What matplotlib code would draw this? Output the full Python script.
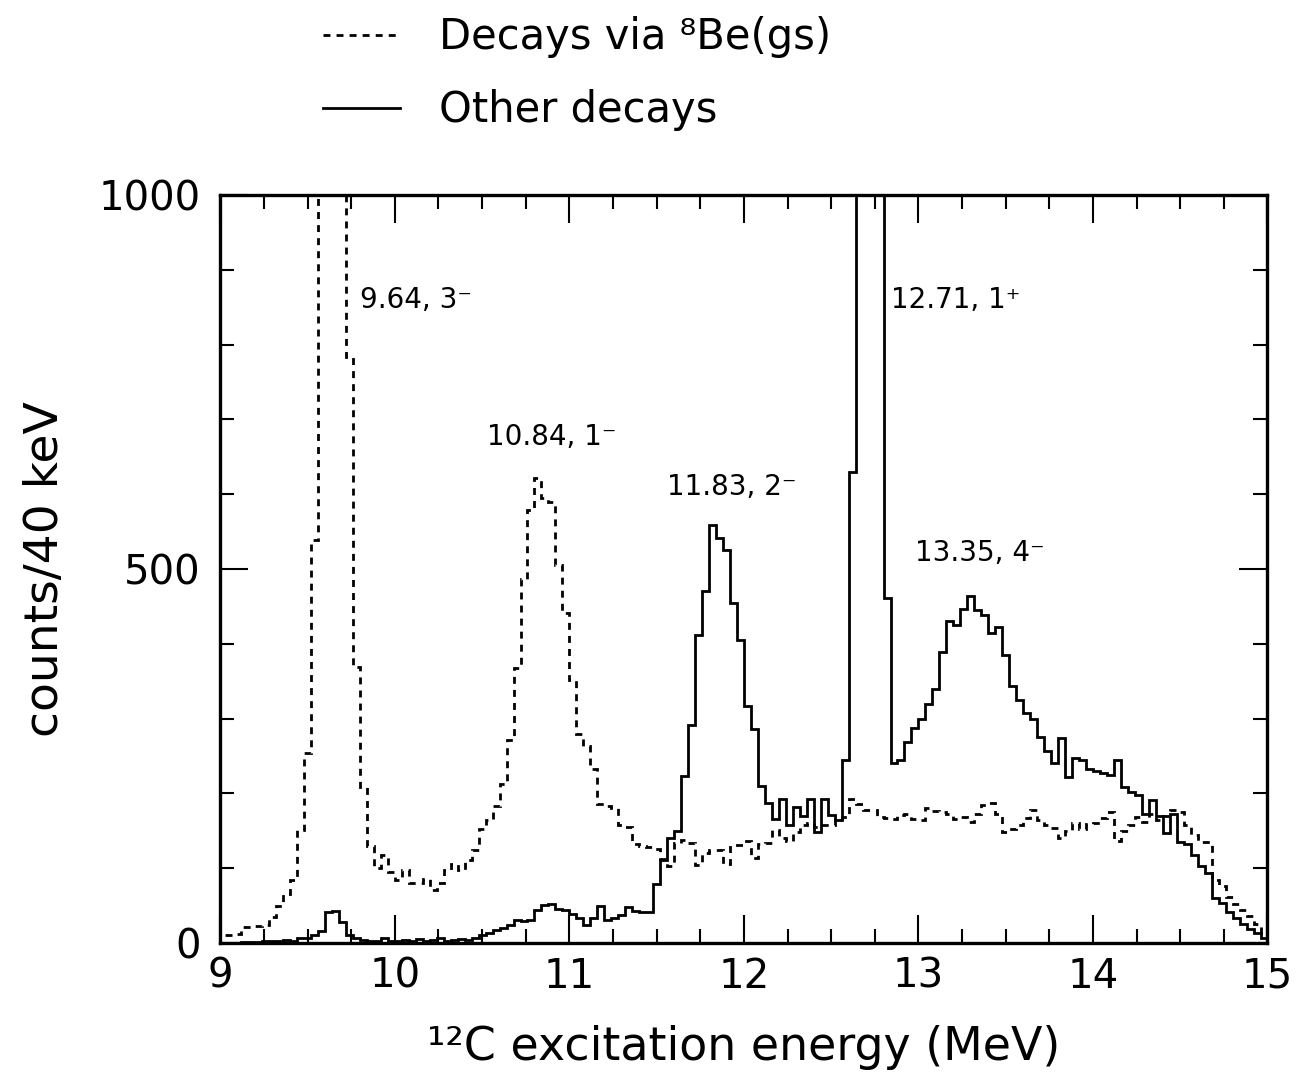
import numpy as np
import matplotlib
matplotlib.use("Agg")
import matplotlib.pyplot as plt
from matplotlib.ticker import MultipleLocator

# 40 keV bins from 9.00 to 15.00 MeV
edges = np.linspace(9.0, 15.0, 151)

# decays via 8Be(gs)  (dashed)
via_be8 = [
    11, 11, 12, 22, 22, 23, 24, 35, 49, 66,
    84, 151, 254, 539, 1900, 3100, 2900, 1700, 784, 369,
    209, 129, 100, 118, 95, 84, 97, 80, 80, 86,
    71, 80, 98, 106, 98, 111, 124, 153, 164, 183,
    213, 271, 367, 487, 579, 621, 595, 590, 505, 441,
    352, 280, 263, 232, 186, 183, 181, 158, 155, 132,
    130, 128, 126, 112, 103, 133, 138, 133, 104, 120,
    124, 124, 106, 131, 131, 136, 113, 132, 133, 151,
    140, 136, 148, 158, 160, 155, 158, 158, 164, 168,
    193, 186, 178, 178, 169, 167, 166, 171, 172, 166,
    165, 181, 177, 175, 172, 166, 168, 162, 172, 185,
    187, 172, 149, 152, 158, 167, 178, 165, 158, 154,
    140, 150, 161, 152, 159, 160, 167, 175, 136, 150,
    158, 168, 162, 172, 165, 170, 178, 175, 158, 144,
    135, 135, 84, 76, 62, 52, 44, 36, 25, 10,
]

# other decays  (solid)
other = [
    0, 0, 0, 1, 1, 1, 2, 2, 3, 4,
    3, 6, 6, 11, 16, 42, 43, 28, 11, 6,
    4, 2, 3, 6, 3, 2, 4, 3, 5, 2,
    4, 6, 3, 4, 5, 4, 7, 11, 13, 17,
    20, 24, 31, 29, 31, 44, 51, 52, 46, 44,
    39, 33, 24, 33, 50, 31, 33, 37, 48, 43,
    42, 42, 79, 111, 140, 150, 223, 291, 412, 471,
    559, 542, 525, 454, 405, 317, 286, 210, 187, 166,
    192, 158, 182, 170, 193, 149, 193, 171, 164, 245,
    630, 1500, 2600, 2700, 1400, 461, 240, 245, 269, 288,
    300, 320, 340, 389, 430, 425, 447, 464, 445, 438,
    415, 422, 385, 343, 325, 308, 299, 276, 256, 240,
    274, 222, 247, 245, 232, 230, 227, 225, 245, 209,
    202, 198, 173, 191, 170, 147, 173, 135, 132, 118,
    103, 93, 60, 53, 42, 33, 26, 18, 13, 7,
]

labels = ["9.64, 3\u207b", "10.84, 1\u207b", "11.83, 2\u207b", "12.71, 1\u207a", "13.35, 4\u207b"]
label_x = [9.80, 10.53, 11.56, 12.84, 12.98]
label_y = [860, 676, 610, 860, 521]

fig = plt.figure(figsize=(12.96, 10.82), dpi=100)
ax = fig.add_axes([0.170, 0.1285, 0.808, 0.6913])

ax.stairs(via_be8, edges, color="black", lw=2.0, linestyle=(0, (2.5, 2.2)),
          label="Decays via \u2078Be(gs)")
ax.stairs(other, edges, color="black", lw=2.0, label="Other decays")

for t, x, y in zip(labels, label_x, label_y):
    ax.text(x, y, t, fontsize=20, va="center", ha="left")

ax.set_xlim(9, 15)
ax.set_ylim(0, 1000)
ax.xaxis.set_major_locator(MultipleLocator(1))
ax.xaxis.set_minor_locator(MultipleLocator(0.25))
ax.yaxis.set_major_locator(MultipleLocator(500))
ax.yaxis.set_minor_locator(MultipleLocator(100))
ax.tick_params(which="both", direction="in", top=True, right=True, width=1.5)
ax.tick_params(which="major", length=20, labelsize=29)
ax.tick_params(axis="x", which="major", pad=10)
ax.tick_params(axis="y", which="major", pad=14)
ax.tick_params(which="minor", length=10)
for s in ax.spines.values():
    s.set_linewidth(2.4)

ax.set_xlabel("\u00b9\u00b2C excitation energy (MeV)", fontsize=33, labelpad=20)
ax.set_ylabel("counts/40 keV", fontsize=34, labelpad=22)

fig.legend(loc="upper left", bbox_to_anchor=(0.249, 0.985), frameon=False,
           fontsize=30, handlelength=1.85, handletextpad=0.95, labelspacing=0.75,
           borderpad=0, borderaxespad=0)

plt.savefig("out.png", dpi=100)
